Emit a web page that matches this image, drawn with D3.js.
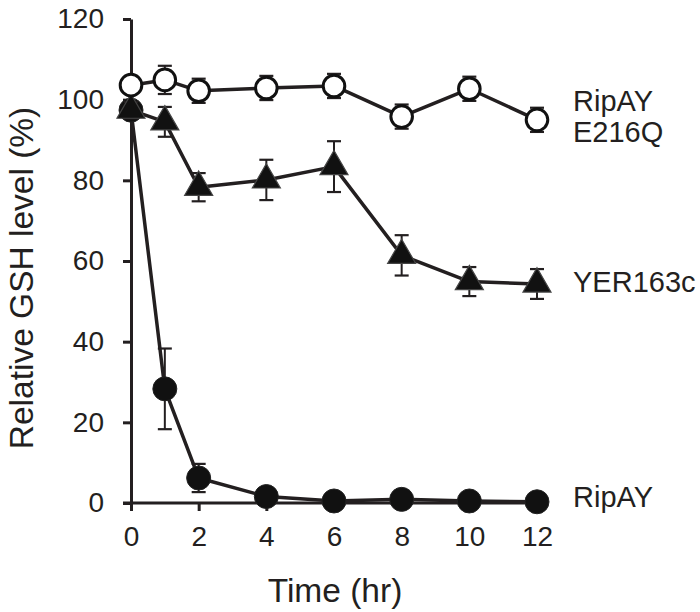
<!DOCTYPE html>
<html>
<head>
<meta charset="utf-8">
<script src="https://cdn.jsdelivr.net/npm/d3@7"></script>
<style>
  html, body { margin: 0; padding: 0; background: #fff; }
  svg { display: block; }
  text { font-family: "Liberation Sans", Arial, Helvetica, sans-serif; fill: #231f20; }
</style>
</head>
<body>
<svg id="chart" width="700" height="612"></svg>
<script>
// ---- data ----
const times = [0, 1, 2, 4, 6, 8, 10, 12];
const xTicks = [0, 2, 4, 6, 8, 10, 12];
const yTicks = [0, 20, 40, 60, 80, 100, 120];

const ripayValues = [97.4, 28.3, 6.2, 1.6, 0.5, 0.9, 0.5, 0.3];
const ripayErrors = [1, 10, 3.5, 1, 0.5, 0.5, 0.3, 0.3];

const yerValues = [97.4, 94.5, 78.3, 80.1, 83.4, 61.4, 54.9, 54.3];
const yerErrors = [2, 3.7, 3.5, 5, 6.3, 5, 3.6, 3.7];

const e216qValues = [103.6, 104.9, 102.2, 102.9, 103.4, 95.8, 102.7, 95.0];
const e216qErrors = [2, 3.5, 3, 3, 3, 3, 3, 3];

const labelLines = [["RipAY", "E216Q"], ["YER163c"], ["RipAY"]];

// ---- layout ----
const svg = d3.select("#chart");
const x = d3.scaleLinear().domain([0, 12]).range([131, 537]);
const y = d3.scaleLinear().domain([0, 120]).range([503, 19]);
const ink = "#231f20";

// axes
const yAxis = d3.axisLeft(y).tickValues(yTicks).tickSize(8).tickSizeOuter(0).tickPadding(19);
const gy = svg.append("g").attr("transform", `translate(${x(0)},0)`).call(yAxis);
gy.select(".domain").attr("stroke", ink).attr("stroke-width", 3);
gy.selectAll(".tick line").attr("stroke", ink).attr("stroke-width", 3);
gy.selectAll(".tick text").attr("font-size", 28).attr("fill", ink)
  .attr("font-family", "Liberation Sans, Arial, sans-serif");

const xAxis = d3.axisBottom(x).tickValues(xTicks).tickSize(8).tickSizeOuter(0).tickPadding(15);
const gx = svg.append("g").attr("transform", `translate(0,${y(0)})`).call(xAxis);
gx.select(".domain").attr("stroke", ink).attr("stroke-width", 3)
  .attr("d", `M${x(0) - 8},0H${x(12)}`);
gx.selectAll(".tick line").attr("stroke", ink).attr("stroke-width", 3);
gx.selectAll(".tick text").attr("font-size", 28).attr("fill", ink)
  .attr("font-family", "Liberation Sans, Arial, sans-serif");

// axis titles
svg.append("text")
  .attr("transform", `translate(33,278) rotate(-90)`)
  .attr("text-anchor", "middle")
  .attr("font-size", 33.5)
  .text("Relative GSH level (%)");
svg.append("text")
  .attr("x", 335).attr("y", 602)
  .attr("text-anchor", "middle")
  .attr("font-size", 33.5)
  .text("Time (hr)");

// series
const series = [
  { values: ripayValues, errors: ripayErrors, marker: "filled" },
  { values: yerValues, errors: yerErrors, marker: "triangle" },
  { values: e216qValues, errors: e216qErrors, marker: "open" }
];

const line = d3.line().x(d => x(d.t)).y(d => y(d.v));

series.forEach(s => {
  const pts = times.map((t, i) => ({ t, v: s.values[i], e: s.errors[i] }));
  const g = svg.append("g");
  g.append("path").datum(pts).attr("d", line)
    .attr("fill", "none").attr("stroke", ink).attr("stroke-width", 3.5)
    .attr("stroke-linejoin", "round");
  // error bars
  const eb = g.selectAll(".eb").data(pts).enter().append("g");
  eb.append("line")
    .attr("x1", d => x(d.t)).attr("x2", d => x(d.t))
    .attr("y1", d => y(d.v + d.e)).attr("y2", d => y(d.v - d.e))
    .attr("stroke", ink).attr("stroke-width", 2);
  [1, -1].forEach(sg => {
    eb.append("line")
      .attr("x1", d => x(d.t) - 7).attr("x2", d => x(d.t) + 7)
      .attr("y1", d => y(d.v + sg * d.e)).attr("y2", d => y(d.v + sg * d.e))
      .attr("stroke", ink).attr("stroke-width", 2.2);
  });
  // markers
  if (s.marker === "filled") {
    g.selectAll(".m").data(pts).enter().append("circle")
      .attr("cx", d => x(d.t)).attr("cy", d => y(d.v)).attr("r", 12)
      .attr("fill", "#111").attr("stroke", "#222").attr("stroke-width", 1);
  } else if (s.marker === "open") {
    g.selectAll(".m").data(pts).enter().append("circle")
      .attr("cx", d => x(d.t)).attr("cy", d => y(d.v)).attr("r", 10.8)
      .attr("fill", "#fff").attr("stroke", "#111").attr("stroke-width", 3);
  } else {
    const sym = d3.symbol(d3.symbolTriangle, 340);
    g.selectAll(".m").data(pts).enter().append("path")
      .attr("d", sym)
      .attr("transform", d => `translate(${x(d.t)},${y(d.v)})`)
      .attr("fill", "#111").attr("stroke", "#444").attr("stroke-width", 1.2);
  }
});

// series labels (placed at the right of each series' last point)
const labelBaselines = [[111, 142], [292], [507]];
labelLines.forEach((lines, k) => {
  lines.forEach((l, i) => {
    svg.append("text")
      .attr("x", 573).attr("y", labelBaselines[k][i])
      .attr("font-size", 29)
      .text(l);
  });
});
</script>
</body>
</html>
